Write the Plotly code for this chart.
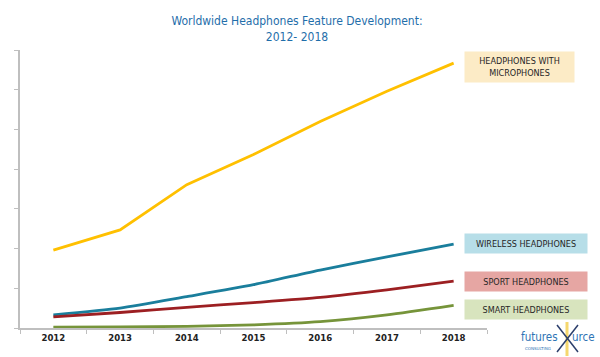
import plotly.graph_objects as go

years = ["2012", "2013", "2014", "2015", "2016", "2017", "2018"]
microphones = [1.96, 2.47, 3.61, 4.37, 5.20, 5.96, 6.67]
wireless = [0.33, 0.50, 0.79, 1.09, 1.46, 1.79, 2.11]
sport = [0.28, 0.39, 0.52, 0.64, 0.77, 0.96, 1.18]
smart = [0.02, 0.03, 0.04, 0.08, 0.16, 0.33, 0.57]

series = [
    ("HEADPHONES WITH<br>MICROPHONES", microphones, "#FFC000", "linear", "#FCEBC6", 0.939, 105, 26),
    ("WIRELESS HEADPHONES", wireless, "#1A7E9C", "spline", "#B7DEE8", 0.304, 118, 15),
    ("SPORT HEADPHONES", sport, "#9C1F22", "spline", "#E6A6A3", 0.167, 118, 15),
    ("SMART HEADPHONES", smart, "#76943A", "spline", "#D8E4BE", 0.0665, 118, 15),
]

L, T, PW, PH = 20, 50, 467, 278


def px(x):
    return (x - L) / PW


def py(y):
    return (T + PH - y) / PH


fig = go.Figure()
ann = []
for name, vals, col, shape, bg, ypos, w, h in series:
    fig.add_trace(go.Scatter(x=years, y=vals, mode="lines",
                             line=dict(color=col, width=2.8, shape=shape, smoothing=0.6),
                             name=name.replace("<br>", " "), showlegend=False, hoverinfo="skip"))
    ann.append(dict(text=name, xref="paper", yref="paper", x=0.951, y=ypos,
                    xanchor="left", yanchor="middle", showarrow=False,
                    bgcolor=bg, width=w, height=h, borderpad=2, align="center",
                    font=dict(family="DejaVu Sans Condensed, DejaVu Sans", size=9, color="#262626")))

# logo star
shapes = [
    dict(type="line", xref="paper", yref="paper", x0=px(567), y0=py(322), x1=px(567), y1=py(356),
         line=dict(color="#F5D76E", width=3)),
    dict(type="line", xref="paper", yref="paper", x0=px(557), y0=py(325), x1=px(578), y1=py(352),
         line=dict(color="#2B3E6B", width=1.5)),
    dict(type="line", xref="paper", yref="paper", x0=px(578), y0=py(325), x1=px(557), y1=py(352),
         line=dict(color="#2B3E6B", width=1.5)),
]

# logo text
ann.append(dict(text="futures", xref="paper", yref="paper",
                x=px(560), y=py(337), xanchor="right", yanchor="middle", showarrow=False,
                font=dict(family="DejaVu Sans Condensed, DejaVu Sans", size=11.5, color="#2E74B5")))
ann.append(dict(text="urce", xref="paper", yref="paper",
                x=px(597), y=py(337), xanchor="right", yanchor="middle", showarrow=False,
                font=dict(family="DejaVu Sans Condensed, DejaVu Sans", size=11.5, color="#2E74B5")))
ann.append(dict(text="CONSULTING", xref="paper", yref="paper", x=px(523), y=py(348),
                xanchor="left", yanchor="middle", showarrow=False,
                font=dict(family="DejaVu Sans", size=4, color="#2E74B5")))

fig.update_layout(
    width=600, height=357,
    margin=dict(l=L, r=600 - L - PW, t=T, b=357 - T - PH),
    paper_bgcolor="white", plot_bgcolor="white",
    title=dict(text="Worldwide Headphones Feature Development:<br>2012- 2018",
               x=0.495, xanchor="center", y=0.93, yanchor="top",
               font=dict(family="DejaVu Sans Condensed, DejaVu Sans", size=12, color="#1F6EAA")),
    xaxis=dict(type="category", range=[-0.5, 6.5], showgrid=False, showline=True,
               linecolor="#BFBFBF", linewidth=2, ticks="outside", tickson="boundaries",
               ticklen=4, tickcolor="#BFBFBF", zeroline=False,
               tickfont=dict(family="DejaVu Sans Condensed, DejaVu Sans", size=9.5, color="#222222", weight="bold")),
    yaxis=dict(range=[0, 7], dtick=1, showgrid=False, showline=True, linecolor="#BFBFBF",
               linewidth=2, ticks="outside", ticklen=4, tickcolor="#BFBFBF",
               showticklabels=False, zeroline=False),
    annotations=ann,
    shapes=shapes,
)

fig.write_html("out.html", config={"displayModeBar": False},
               post_script="document.body.style.margin='0';")
